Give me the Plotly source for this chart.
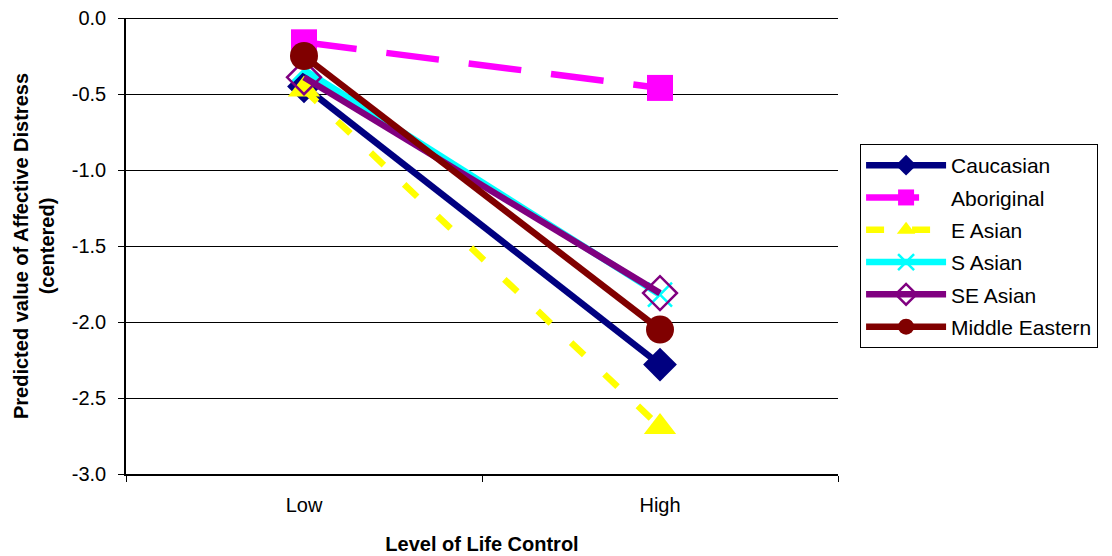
import plotly.graph_objects as go

# Level of life control (x categories)
levels = ["Low", "High"]

# Predicted affective distress (centered) per group
caucasian = [-0.45, -2.28]
aboriginal = [-0.16, -0.46]
e_asian = [-0.47, -2.69]
s_asian = [-0.34, -1.82]
se_asian = [-0.39, -1.81]
middle_eastern = [-0.25, -2.05]

y_ticks = [0.0, -0.5, -1.0, -1.5, -2.0, -2.5, -3.0]
y_tick_labels = ["0.0", "-0.5", "-1.0", "-1.5", "-2.0", "-2.5", "-3.0"]

FONT = "Liberation Sans, Arial, sans-serif"

series = [
    ("Caucasian", caucasian, "#000080", "solid", "diamond", 26, None),
    ("Aboriginal", aboriginal, "#FF00FF", "53px,30px", "square", 26, None),
    ("E Asian", e_asian, "#FFFF00", "18px,28px", "triangle-up", 28, None),
    ("S Asian", s_asian, "#00FFFF", "solid", "x-thin-open", 24, 2.5),
    ("SE Asian", se_asian, "#800080", "solid", "diamond-open", 26, 2.5),
    ("Middle Eastern", middle_eastern, "#800000", "solid", "circle", 28, None),
]

fig = go.Figure()
for name, vals, color, dash, symbol, size, mlw in series:
    marker = dict(symbol=symbol, size=size, color=color)
    if mlw is not None:
        marker["line"] = dict(color=color, width=mlw)
    else:
        marker["line"] = dict(width=0)
    fig.add_trace(go.Scatter(
        x=levels, y=vals, name=name, legendgroup=name, mode="lines+markers",
        line=dict(color=color, width=6.5, dash=dash),
        marker=marker,
    ))

fig.update_layout(
    width=1112, height=556,
    margin=dict(l=126, r=274, t=18, b=82, autoexpand=False),
    paper_bgcolor="white", plot_bgcolor="white",
    font=dict(family=FONT, size=20, color="black"),
    showlegend=True,
    legend=dict(
        x=1.031, y=0.5, xanchor="left", yanchor="middle",
        bordercolor="black", borderwidth=1,
        font=dict(family=FONT, size=21, color="black"),
        tracegroupgap=2, itemwidth=80,
    ),
    xaxis=dict(
        type="category", range=[-0.5, 1.5], automargin=False,
        showline=True, linecolor="black", linewidth=1.5,
        ticks="outside", ticklen=6, tickcolor="black",
        tickson="boundaries", showgrid=False,
        tickfont=dict(family=FONT, size=20),
        ticklabelstandoff=12,
        title=dict(text="<b>Level of Life Control</b>",
                   font=dict(family=FONT, size=20), standoff=22),
    ),
    yaxis=dict(
        range=[-3.0, 0.0], automargin=False,
        tickvals=y_ticks, ticktext=y_tick_labels,
        showline=True, linecolor="black", linewidth=1.5,
        ticks="outside", ticklen=6, tickcolor="black",
        ticklabelstandoff=8,
        showgrid=True, gridcolor="black", gridwidth=1,
        zeroline=True, zerolinecolor="black", zerolinewidth=1,
        tickfont=dict(family=FONT, size=20),
        title=dict(text="<b>Predicted value of Affective Distress<br>(centered)</b>",
                   font=dict(family=FONT, size=20), standoff=12),
    ),
)

fig.write_html("out.html")
